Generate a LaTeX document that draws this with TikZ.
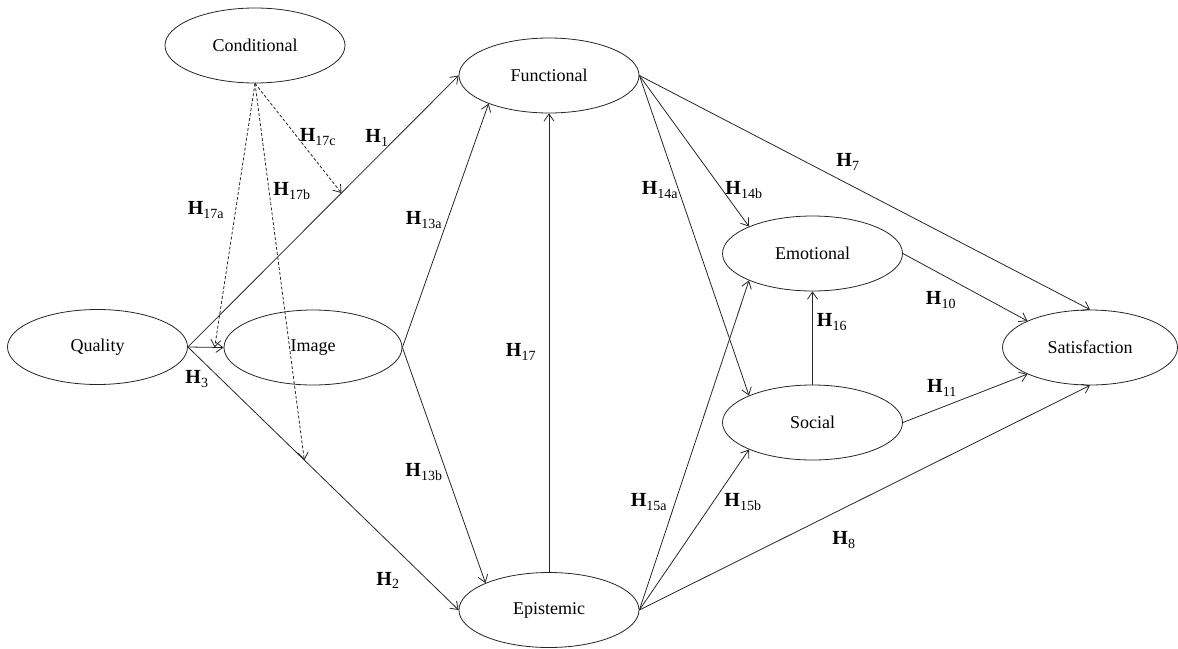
\documentclass[tikz,border=0pt]{standalone}
\usepackage{fontspec}
\setmainfont{Liberation Serif}
\usepackage{tikz}
\usetikzlibrary{shapes.geometric, arrows.meta}
\colorlet{linecolor}{black!85}
\colorlet{textcolor}{black}
\tikzset{
	construct/.style={
		,ellipse
		,draw			= linecolor
		,line width		= 0.8pt
		,minimum width	= 180pt
		,minimum height	= 75pt
		,inner sep		= 0pt
		,text			= textcolor
		,font			= \fontsize{18}{20}\selectfont
	}
	,hyp/.style		= {inner sep = 0pt, font = \fontsize{20}{22}\selectfont}
	,link/.style	= {draw = linecolor, line width = 0.8pt, -{Straight Barb[length=7pt, width=10pt]}}
	,moder/.style	= {link, dash pattern = on 3pt off 2pt}
}
\newcommand{\hlab}[1]{\textbf{H}\textsubscript{#1}}

\begin{document}
\begin{tikzpicture}[x=1pt, y=-1pt]
	\useasboundingbox (0,0) rectangle (1178,648);

	% the constructs
	\node[construct] (cond) at (255,45.5) {Conditional};
	\node[construct] (qual) at (97.5,347) {Quality};
	\node[construct, minimum width = 178pt] (img) at (313,347.5) {Image};
	\node[construct] (func) at (549,75.5) {Functional};
	\node[construct] (epis) at (549,610) {Epistemic};
	\node[construct] (emo) at (812.5,253.5) {Emotional};
	\node[construct] (soc) at (812.5,422.5) {Social};
	\node[construct, minimum width = 175pt] (sat) at (1090,347.5) {Satisfaction};

	% the paths
	\draw[link] (qual.east) -- (func.west) coordinate[pos=0.567] (c1);
	\draw[link] (qual.east) -- (img.west) coordinate[pos=0.75] (c3);
	\draw[link] (qual.east) -- (epis.west) coordinate[pos=0.43] (c2);
	\draw[link] (img.east) -- (func.205);
	\draw[link] (img.east) -- (epis.157);
	\draw[link] (epis.north) -- (func.south);
	\draw[link] (func.east) -- (emo.157);
	\draw[link] (func.east) -- (soc.157);
	\draw[link] (func.east) -- (sat.north);
	\draw[link] (epis.east) -- (emo.203);
	\draw[link] (epis.east) -- (soc.203);
	\draw[link] (epis.east) -- (sat.south);
	\draw[link] (emo.east) -- (sat.157);
	\draw[link] (soc.east) -- (sat.203);
	\draw[link] (soc.north) -- (emo.south);

	% the moderating paths
	\draw[moder] (cond.south) -- (c3);
	\draw[moder] (cond.south) -- (c2);
	\draw[moder] (cond.south) -- (c1);

	% the hypotheses
	\node[hyp] (h17c) at (318,137) {\hlab{17c}};
	\node[hyp] (h1)   at (377,138) {\hlab{1}};
	\node[hyp] (h17b) at (292,191) {\hlab{17b}};
	\node[hyp] (h17a) at (206,210) {\hlab{17a}};
	\node[hyp] (h13a) at (424,220) {\hlab{13a}};
	\node[hyp] (h3)   at (197,379) {\hlab{3}};
	\node[hyp] (h13b) at (424,472) {\hlab{13b}};
	\node[hyp] (h2)   at (388,580) {\hlab{2}};
	\node[hyp] (h17)  at (521,352) {\hlab{17}};
	\node[hyp] (h14a) at (660,190) {\hlab{14a}};
	\node[hyp] (h14b) at (744,190) {\hlab{14b}};
	\node[hyp] (h7)   at (848,162) {\hlab{7}};
	\node[hyp] (h10)  at (941,300) {\hlab{10}};
	\node[hyp] (h11)  at (942,388) {\hlab{11}};
	\node[hyp] (h16)  at (832,322) {\hlab{16}};
	\node[hyp] (h15a) at (649,502) {\hlab{15a}};
	\node[hyp] (h15b) at (743,502) {\hlab{15b}};
	\node[hyp] (h8)   at (844,540) {\hlab{8}};
\end{tikzpicture}
\end{document}
